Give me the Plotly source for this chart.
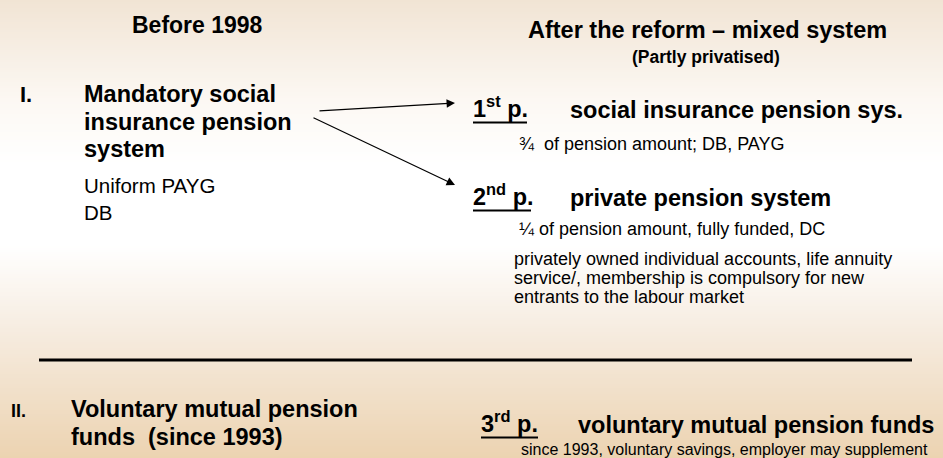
import plotly.graph_objects as go

W, H = 943, 458
FONT = "Arial, 'Liberation Sans', sans-serif"
INK = "#000000"

# ---- text content ----
column_headers = ["Before 1998", "After the reform – mixed system"]
header_note = "(Partly privatised)"
pillar_I_label = "I."
pillar_I_title = ["Mandatory social", "insurance pension", "system"]
pillar_I_details = ["Uniform PAYG", "DB"]
pillar_II_label = "II."
pillar_II_title = ["Voluntary mutual pension", "funds  (since 1993)"]
pillar_names = ["1<sup>st</sup> p.", "2<sup>nd</sup> p.", "3<sup>rd</sup> p."]
pillar_titles = ["social insurance pension sys.", "private pension system",
                 "voluntary mutual pension funds"]
pillar_1_details = ["¾  of pension amount; DB, PAYG"]
pillar_2_details = ["¼ of pension amount, fully funded, DC",
                    "privately owned individual accounts, life annuity",
                    "service/, membership is compulsory for new",
                    "entrants to the labour market"]
pillar_3_details = ["since 1993, voluntary savings, employer may supplement"]

# ---- background gradient stops (y pixel, rgb) ----
grad_stops = [(0, (241, 228, 212)), (100, (252, 248, 243)), (165, (255, 255, 255)),
              (245, (255, 255, 255)), (330, (246, 236, 224)), (458, (236, 211, 177))]

fig = go.Figure()
shapes = []
step = 2
for y0 in range(0, H, step):
    yc = y0 + step / 2
    for (ya, ca), (yb, cb) in zip(grad_stops[:-1], grad_stops[1:]):
        if ya <= yc <= yb:
            t = (yc - ya) / (yb - ya)
            c = tuple(round(a + (b - a) * t) for a, b in zip(ca, cb))
            break
    shapes.append(dict(type="rect", xref="x", yref="y", x0=0, x1=W, y0=y0, y1=y0 + step,
                       fillcolor="rgb(%d,%d,%d)" % c, line=dict(width=0), layer="below"))

# separator line
shapes.append(dict(type="line", xref="x", yref="y", x0=39, x1=912, y0=360, y1=360,
                   line=dict(color=INK, width=3)))

annotations = []


def add_text(text, x, baseline, size, bold=False, xanchor="left", dy=0.0):
    t = "<b>%s</b>" % text if bold else text
    annotations.append(dict(text=t, x=x, y=baseline - 0.3465 * size + dy, xref="x", yref="y",
                            xanchor=xanchor, yanchor="middle", showarrow=False,
                            font=dict(family=FONT, size=size, color=INK), borderpad=0))


# headers
add_text(column_headers[0], 197, 33, 23, bold=True, xanchor="center")
add_text(column_headers[1], 707, 38, 23.5, bold=True, xanchor="center")
add_text(header_note, 706, 63, 17.5, bold=True, xanchor="center")

# pillar I (before)
add_text(pillar_I_label, 19, 102, 22, bold=True)
for line, b in zip(pillar_I_title, [102, 130, 157]):
    add_text(line, 83, b, 23.5, bold=True)
for line, b in zip(pillar_I_details, [193, 220]):
    add_text(line, 83, b, 20.5)

# pillars after reform
for name, title, b, xn, xt, ul in zip(pillar_names, pillar_titles, [118, 206, 433],
                                      [472, 472, 480], [569, 569, 577], [55, 59, 58]):
    add_text(name, xn, b, 23.5, bold=True, dy=-3)
    add_text(title, xt, b, 23.5, bold=True)
    shapes.append(dict(type="line", xref="x", yref="y", x0=xn + 1, x1=xn + ul,
                       y0=b + 4.5, y1=b + 4.5, line=dict(color=INK, width=2.2)))

add_text(pillar_1_details[0], 518, 150, 18)
add_text(pillar_2_details[0], 518, 235, 18)
for line, b in zip(pillar_2_details[1:], [265, 284, 303]):
    add_text(line, 513, b, 18)
add_text(pillar_3_details[0], 520, 455, 16)

# pillar II (before)
add_text(pillar_II_label, 10, 417, 18, bold=True)
for line, b in zip(pillar_II_title, [417, 445]):
    add_text(line, 70, b, 23.5, bold=True)

# arrows
for (x0, y0), (x1, y1) in [((318, 111), (455, 103)), ((312, 117), (455, 185))]:
    annotations.append(dict(x=x1, y=y1, ax=x0, ay=y0, xref="x", yref="y", axref="x", ayref="y",
                            text="", showarrow=True, arrowhead=2, arrowsize=1.4,
                            arrowwidth=1.2, arrowcolor=INK, standoff=0))

fig.update_layout(
    width=W, height=H, margin=dict(l=0, r=0, t=0, b=0),
    paper_bgcolor="white", plot_bgcolor="white",
    xaxis=dict(range=[0, W], visible=False, fixedrange=True),
    yaxis=dict(range=[H, 0], visible=False, fixedrange=True),
    shapes=shapes, annotations=annotations, showlegend=False,
)

fig.write_html("out.html", config=dict(displayModeBar=False),
               post_script="document.body.style.margin='0';document.body.style.overflow='hidden';")
